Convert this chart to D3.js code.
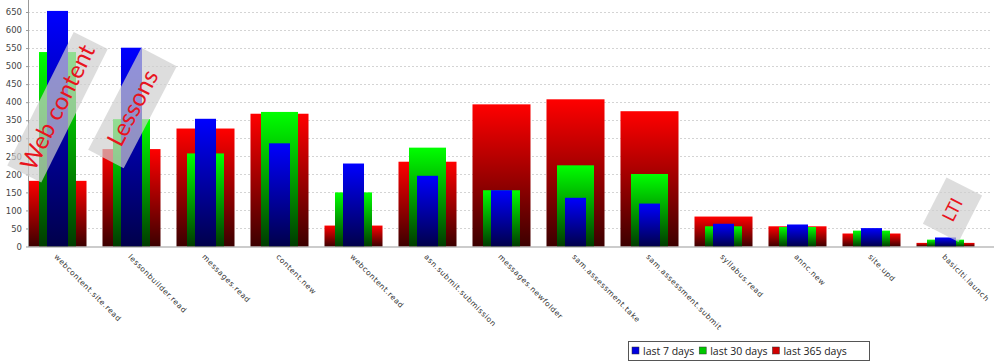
<!DOCTYPE html>
<html>
<head>
<meta charset="utf-8">
<script src="https://cdn.jsdelivr.net/npm/d3@7"></script>
<style>
  body { margin: 0; background: #fff; }
  svg { display: block; }
</style>
</head>
<body>
<svg id="chart_svg"></svg>
<script>
// categories (event names) and the three series
var categories = ["webcontent.site.read", "lessonbuilder.read", "messages.read", "content.new",
  "webcontent.read", "asn.submit.submission", "messages.newfolder", "sam.assessment.take",
  "sam.assessment.submit", "syllabus.read", "annc.new", "site.upd", "basiclti.launch"];
var last365 = [182, 270, 327, 368, 58, 235, 394, 408, 375, 83, 56, 36, 10];
var last30 = [539, 353, 258, 373, 150, 274, 156, 225, 201, 56, 54, 44, 19];
var last7 = [653, 551, 354, 286, 230, 196, 156, 135, 119, 63, 61, 51, 25];
var yTicks = [0, 50, 100, 150, 200, 250, 300, 350, 400, 450, 500, 550, 600, 650];
var legendLabels = ["last 7 days", "last 30 days", "last 365 days"];
// callouts drawn over the bars
var notes = [
  { cat: "webcontent.site.read", value: 386, text: "Web content" },
  { cat: "lessonbuilder.read", value: 384, text: "Lessons" },
  { cat: "basiclti.launch", value: 102, text: "LTI" }
];

var svgWidth = 1006, svgHeight = 364;
var svg = d3.select("#chart_svg").attr("width", svgWidth).attr("height", svgHeight);

var axisLeftX = 28, axisRightX = 994;

var xScale = d3.scaleBand()
  .domain(categories)
  .range([20.5, 982.5])
  .padding(0);

var yScale = d3.scaleLinear()
  .domain([0, 650])
  .range([246.5, 12]);

// gradients, bright on top going dark at the bottom
var defs = svg.append("defs");
function addGradient(id, top, bottom) {
  var g = defs.append("linearGradient").attr("id", id)
    .attr("x1", 0).attr("y1", 0).attr("x2", 0).attr("y2", 1);
  g.append("stop").attr("offset", "0%").attr("stop-color", top);
  g.append("stop").attr("offset", "100%").attr("stop-color", bottom);
}
addGradient("grad_red", "#ff0000", "#3c0000");
addGradient("grad_green", "#00ff00", "#003c00");
addGradient("grad_blue", "#0000ff", "#00004a");

// grid
svg.append("g").selectAll("line")
  .data(yTicks.filter(d => d > 0))
  .join("line")
  .attr("x1", axisLeftX).attr("x2", axisRightX - 2)
  .attr("y1", d => Math.round(yScale(d)) + 0.5)
  .attr("y2", d => Math.round(yScale(d)) + 0.5)
  .attr("stroke", "#d4d4d4")
  .attr("stroke-width", 1)
  .attr("stroke-dasharray", "2,2");

// bars: widest red behind, then green, then blue
var series = [
  { values: last365, fill: "url(#grad_red)", frac: 0.784 },
  { values: last30, fill: "url(#grad_green)", frac: 0.5 },
  { values: last7, fill: "url(#grad_blue)", frac: 0.284 }
];
series.forEach(function (s) {
  var w = xScale.bandwidth() * s.frac;
  svg.append("g").selectAll("rect")
    .data(categories)
    .join("rect")
    .attr("x", d => xScale(d) + xScale.bandwidth() / 2 - w / 2)
    .attr("y", (d, i) => yScale(s.values[i]))
    .attr("width", w)
    .attr("height", (d, i) => yScale(0) - yScale(s.values[i]))
    .attr("fill", s.fill);
});

// y axis
var yAxis = svg.append("g")
  .attr("transform", `translate(${axisLeftX},0)`)
  .call(d3.axisLeft(yScale).tickValues(yTicks).tickSize(2).tickPadding(4));
yAxis.select(".domain").remove();
yAxis.selectAll(".tick line").attr("stroke", "#999");
yAxis.selectAll("text")
  .attr("fill", "#444")
  .style("font-family", "'DejaVu Sans', sans-serif")
  .style("font-size", "8.5px");
svg.append("line")
  .attr("x1", axisLeftX + 0.5).attr("x2", axisLeftX + 0.5)
  .attr("y1", 0).attr("y2", yScale(0))
  .attr("stroke", "#999");

// x axis
svg.append("line")
  .attr("x1", axisLeftX).attr("x2", axisRightX)
  .attr("y1", yScale(0) + 0.5).attr("y2", yScale(0) + 0.5)
  .attr("stroke", "#999");

svg.append("g").selectAll("text")
  .data(categories)
  .join("text")
  .attr("transform", d => `translate(${xScale(d) + xScale.bandwidth() / 2 - 2},${yScale(0) + 9}) rotate(45)`)
  .attr("dy", "0.35em")
  .attr("fill", "#333")
  .style("font-family", "'DejaVu Sans', sans-serif")
  .style("font-size", "7.5px")
  .style("letter-spacing", "0.6px")
  .text(d => d);

// callouts
var noteSizes = { "Web content": [149, 38, 24, -63.5, 0], "Lessons": [115, 40, 24, -62.5, 1], "LTI": [52, 40, 18, -63, 7] };
notes.forEach(function (n) {
  var sz = noteSizes[n.text];
  var cx = xScale(n.cat) + xScale.bandwidth() / 2 + sz[4];
  var cy = yScale(n.value);
  var g = svg.append("g").attr("transform", `translate(${cx},${cy}) rotate(${sz[3]})`);
  g.append("rect")
    .attr("x", -sz[0] / 2).attr("y", -sz[1] / 2)
    .attr("width", sz[0]).attr("height", sz[1])
    .attr("fill", "#cecece")
    .attr("fill-opacity", 0.7);
  g.append("text")
    .attr("text-anchor", "middle")
    .attr("dy", "0.35em")
    .attr("fill", "#e8141e")
    .style("font-family", "Lato, sans-serif")
    .style("font-size", sz[2] + "px")
    .text(n.text);
});

// legend
var legendColors = ["#0000e0", "#00c800", "#d00000"];
var legend = svg.append("g").attr("transform", "translate(628,341)");
legend.append("rect")
  .attr("x", 0.5).attr("y", 0.5)
  .attr("width", 241).attr("height", 19)
  .attr("fill", "#fff")
  .attr("stroke", "#555");
var lx = 4;
legendLabels.forEach(function (lab, i) {
  legend.append("rect")
    .attr("x", lx).attr("y", 6)
    .attr("width", 7).attr("height", 7)
    .attr("fill", legendColors[i])
    .attr("stroke", "#333").attr("stroke-width", 0.5);
  var t = legend.append("text")
    .attr("x", lx + 11).attr("y", 14)
    .attr("fill", "#222")
    .style("font-family", "'Open Sans', sans-serif")
    .style("font-size", "10.5px")
    .text(lab);
  lx += 11 + t.node().getComputedTextLength() + 5;
});
</script>
</body>
</html>
